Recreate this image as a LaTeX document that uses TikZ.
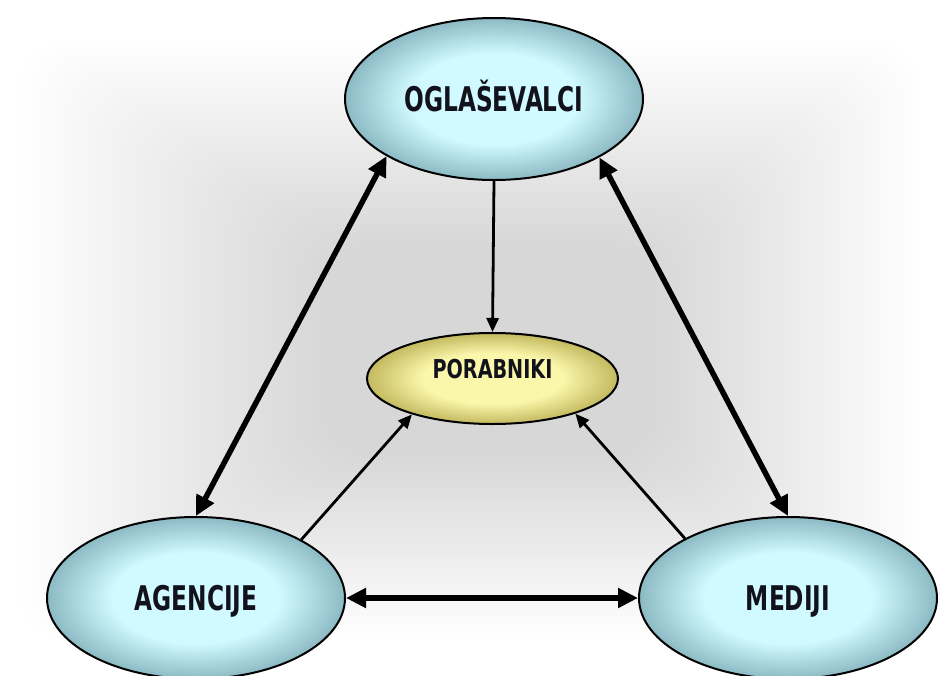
\documentclass[tikz,border=0pt]{standalone}
\usepackage{fontspec}
\newfontfamily\labfont[FakeStretch=0.76]{DejaVu Sans Condensed}
\newfontfamily\porfont[FakeStretch=0.82]{DejaVu Sans Condensed}
\usetikzlibrary{shapes.geometric,arrows.meta}
\definecolor{cyanin}{RGB}{208,250,255}
\definecolor{cyanout}{RGB}{140,186,196}
\definecolor{yelin}{RGB}{250,246,170}
\definecolor{yelout}{RGB}{195,185,95}
\definecolor{txt}{RGB}{18,18,28}
\pgfdeclareradialshading{cyanshade}{\pgfpoint{0bp}{0bp}}{color(0bp)=(cyanin); color(14bp)=(cyanin); color(25bp)=(cyanout); color(50bp)=(cyanout)}
\pgfdeclareradialshading{yelshade}{\pgfpoint{0bp}{0bp}}{color(0bp)=(yelin); color(14bp)=(yelin); color(25bp)=(yelout); color(50bp)=(yelout)}
\tikzset{
  bubble/.style={ellipse, draw=black, line width=2pt, shading=cyanshade,
    minimum width=298pt, minimum height=162pt, inner sep=0pt,
    text=txt, font=\labfont\bfseries\fontsize{34}{34}\selectfont,
    text height=25pt, text depth=0pt},
  centrebubble/.style={ellipse, draw=black, line width=2pt, shading=yelshade,
    minimum width=251pt, minimum height=91pt, inner sep=0pt,
    text=txt, font=\porfont\bfseries\fontsize{26}{26}\selectfont,
    text height=10pt, text depth=10pt},
  bigarrow/.style={line width=5.5pt,
    {Triangle[length=20pt,width=19pt]}-{Triangle[length=20pt,width=19pt]}},
  smallarrow/.style={line width=2.8pt, -{Triangle[length=14pt,width=12pt]}},
  shadowlayer/.style={fill=black, opacity=0.0058, rounded corners=50pt}
}
\begin{document}
\begin{tikzpicture}[x=1pt,y=-1pt]
\useasboundingbox (0,0) rectangle (940,675);
\fill[white] (0,0) rectangle (940,675);
\foreach \i in {0,...,39}{
  \fill[shadowlayer] (20+\i*7.75, 40+\i*5.25) rectangle (920-\i*6.75, 640-\i*4.75);
}
\node[bubble] (ogl) at (494,99) {OGLAŠEVALCI};
\node[centrebubble] (por) at (492.5,378.5) {PORABNIKI};
\node[bubble] (age) at (196,598) {AGENCIJE};
\node[bubble] (med) at (788,598) {MEDIJI};
\draw[bigarrow] (ogl.208) -- (age.90);
\draw[bigarrow] (ogl.331) -- (med.90);
\draw[bigarrow] (age.0) -- (med.180);
\draw[smallarrow] (ogl.270) -- (por.90);
\draw[smallarrow] (age.29.5) -- (por.204);
\draw[smallarrow] (med.150.5) -- (por.337);
\end{tikzpicture}
\end{document}
